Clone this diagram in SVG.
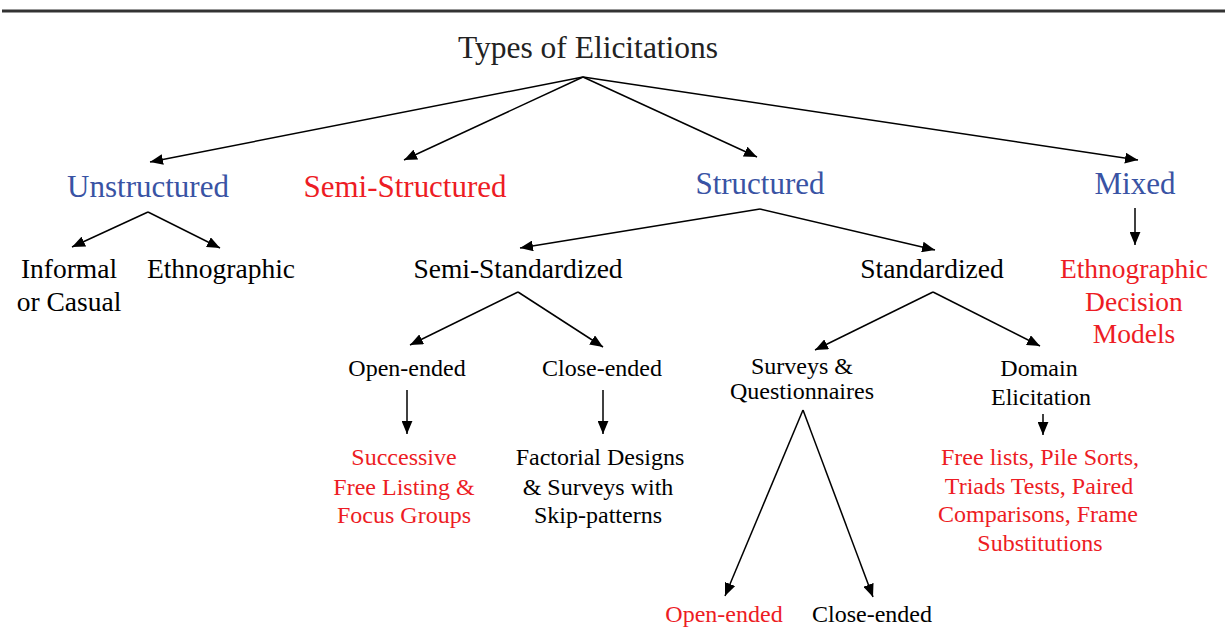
<svg xmlns="http://www.w3.org/2000/svg" width="1225" height="631" viewBox="0 0 1225 631">
<defs>
<marker id="ah" viewBox="0 0 12 10" refX="12" refY="5" markerWidth="13" markerHeight="11" markerUnits="userSpaceOnUse" orient="auto">
<path d="M0,0 L12,5 L0,10 z" fill="#000"/>
</marker>
<style>
text{font-family:"Liberation Serif","Times New Roman",serif;text-anchor:middle;fill:#000}
.t0{font-size:31.5px;fill:#222}
.t1{font-size:31px}
.t2{font-size:27.5px}
.t3{font-size:24px}
.blue{fill:#3953a4}
.red{fill:#ed1c24}
.c line{stroke:#000;stroke-width:1.5;marker-end:url(#ah)}
</style>
</defs>
<rect width="1225" height="631" fill="#fff"/>
<rect x="2" y="9.5" width="1223" height="3" fill="#333"/>

<g class="c" id="connectors">
<line x1="583" y1="77" x2="150" y2="162"/>
<line x1="583" y1="77" x2="404" y2="160"/>
<line x1="583" y1="77" x2="757" y2="157"/>
<line x1="583" y1="77" x2="1138" y2="160"/>
<line x1="148" y1="212" x2="72" y2="247"/>
<line x1="148" y1="212" x2="220" y2="248"/>
<line x1="760" y1="209" x2="520" y2="248"/>
<line x1="760" y1="209" x2="935" y2="250"/>
<line x1="1135" y1="208" x2="1135" y2="245"/>
<line x1="518" y1="292" x2="410" y2="345"/>
<line x1="518" y1="292" x2="603" y2="347"/>
<line x1="933" y1="292" x2="815" y2="350"/>
<line x1="933" y1="292" x2="1040" y2="346"/>
<line x1="407" y1="390" x2="407" y2="434"/>
<line x1="603" y1="390" x2="603" y2="434"/>
<line x1="1043" y1="414" x2="1043" y2="435"/>
<line x1="803" y1="410" x2="725" y2="596"/>
<line x1="803" y1="410" x2="873" y2="597"/>
</g>

<g id="n-root"><text class="t0" x="588" y="58">Types of Elicitations</text></g>
<g id="n-unstructured"><text class="t1 blue" x="148" y="197">Unstructured</text></g>
<g id="n-semistructured"><text class="t1 red" x="405" y="197" textLength="203" lengthAdjust="spacing">Semi-Structured</text></g>
<g id="n-structured"><text class="t1 blue" x="760" y="194">Structured</text></g>
<g id="n-mixed"><text class="t1 blue" x="1135" y="194">Mixed</text></g>

<g id="n-informal"><text class="t2" x="69" y="278">Informal</text><text class="t2" x="69" y="311">or Casual</text></g>
<g id="n-ethnographic"><text class="t2" x="221" y="278">Ethnographic</text></g>
<g id="n-semistandardized"><text class="t2" x="518" y="278">Semi-Standardized</text></g>
<g id="n-standardized"><text class="t2" x="932" y="278">Standardized</text></g>
<g id="n-edm"><text class="t2 red" x="1134" y="278">Ethnographic</text><text class="t2 red" x="1134" y="311">Decision</text><text class="t2 red" x="1134" y="343">Models</text></g>

<g id="n-openended1"><text class="t3" x="407" y="376">Open-ended</text></g>
<g id="n-closeended1"><text class="t3" x="602" y="376">Close-ended</text></g>
<g id="n-surveys"><text class="t3" x="802" y="374">Surveys &amp;</text><text class="t3" x="802" y="399">Questionnaires</text></g>
<g id="n-domain"><text class="t3" x="1039" y="376">Domain</text><text class="t3" x="1041" y="405">Elicitation</text></g>

<g id="n-successive"><text class="t3 red" x="404" y="465">Successive</text><text class="t3 red" x="404" y="495">Free Listing &amp;</text><text class="t3 red" x="404" y="523">Focus Groups</text></g>
<g id="n-factorial"><text class="t3" x="600" y="465">Factorial Designs</text><text class="t3" x="598" y="495">&amp; Surveys with</text><text class="t3" x="598" y="523">Skip-patterns</text></g>
<g id="n-freelists"><text class="t3 red" x="1040" y="465">Free lists, Pile Sorts,</text><text class="t3 red" x="1039" y="494">Triads Tests, Paired</text><text class="t3 red" x="1038" y="522">Comparisons, Frame</text><text class="t3 red" x="1040" y="551">Substitutions</text></g>
<g id="n-openended2"><text class="t3 red" x="724" y="622">Open-ended</text></g>
<g id="n-closeended2"><text class="t3" x="872" y="622">Close-ended</text></g>
</svg>
